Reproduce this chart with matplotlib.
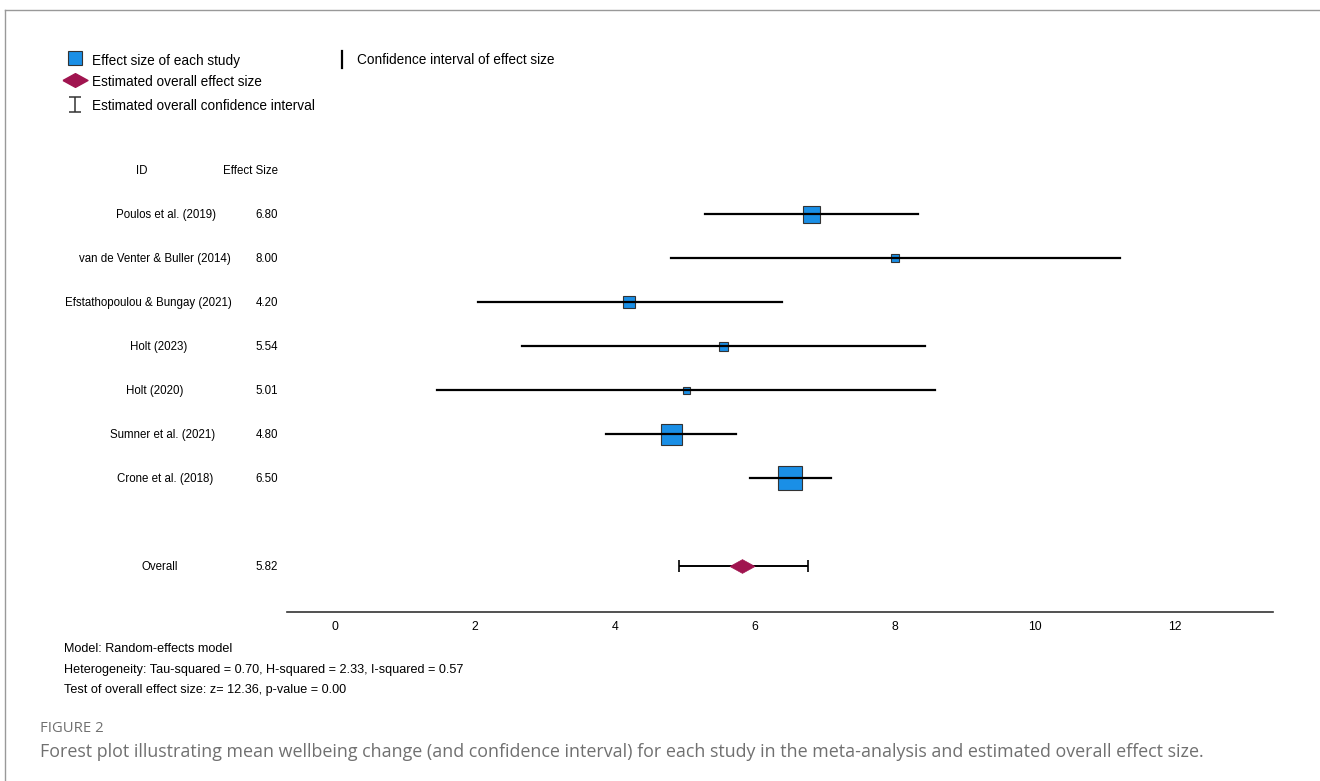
import matplotlib.pyplot as plt
from matplotlib.transforms import blended_transform_factory

plt.rcParams['font.family'] = ['Liberation Sans', 'DejaVu Sans']

studies = ['Poulos et al. (2019)', 'van de Venter & Buller (2014)',
           'Efstathopoulou & Bungay (2021)', 'Holt (2023)', 'Holt (2020)',
           'Sumner et al. (2021)', 'Crone et al. (2018)']
effects = [6.80, 8.00, 4.20, 5.54, 5.01, 4.80, 6.50]
ci_low = [5.29, 4.80, 2.04, 2.67, 1.46, 3.87, 5.93]
ci_high = [8.33, 11.21, 6.39, 8.43, 8.57, 5.73, 7.09]
weights = [17, 8, 12, 9, 7, 21, 24]   # relative box size (study weight)
overall = 5.82
overall_low = 4.91
overall_high = 6.76
xticks = [0, 2, 4, 6, 8, 10, 12]

W, H = 1320, 781
fig = plt.figure(figsize=(W / 100, H / 100), dpi=100)


def px(x0, y0, x1, y1):
    return [x0 / W, 1 - y1 / H, (x1 - x0) / W, (y1 - y0) / H]


blue = '#1a8fe6'
maroon = '#a0144f'
diamond = [(-1, 0), (0, 0.55), (1, 0), (0, -0.55), (-1, 0)]
fs_tab = 8.3
fs_leg = 9.8

# forest plot
ax = fig.add_axes(px(287, 140, 1273, 612))
overall_row = len(studies) + 1
for i in range(len(studies)):
    ax.plot(effects[i], i, marker='s', ms=weights[i] * 0.72, mfc=blue,
            mec='#333333', mew=0.8, zorder=2)
    ax.plot([ci_low[i], ci_high[i]], [i, i], color='black', lw=1.6, zorder=3)

ax.errorbar(overall, overall_row,
            xerr=[[overall - overall_low], [overall_high - overall]],
            fmt='none', ecolor='black', elinewidth=1.4, capsize=4.5,
            capthick=1.2, zorder=2)
ax.plot(overall, overall_row, marker=diamond, ms=18, mfc=maroon, mec=maroon,
        mew=0.5, zorder=3)

ax.set_xlim(-0.686, 13.4)
ax.set_ylim(9.05, -1.68)
ax.set_xticks(xticks)
ax.set_yticks([])
ax.tick_params(axis='x', length=0, labelsize=8.8, pad=6.5)
for s in ['top', 'right', 'left']:
    ax.spines[s].set_visible(False)
ax.spines['bottom'].set_color('#333333')
ax.spines['bottom'].set_linewidth(1.2)

# left table
trans = blended_transform_factory(fig.transFigure, ax.transData)
name_x = [166, 155, 148, 159, 155, 163, 165]
kw = dict(transform=trans, va='center_baseline', fontsize=fs_tab,
          clip_on=False)
ax.text(142 / W, -1, 'ID', ha='center', **kw)
ax.text(278 / W, -1, 'Effect Size', ha='right', **kw)
for i, name in enumerate(studies):
    ax.text(name_x[i] / W, i, name, ha='center', **kw)
    ax.text(278 / W, i, f'{effects[i]:.2f}', ha='right', **kw)
ax.text(160 / W, overall_row, 'Overall', ha='center', **kw)
ax.text(278 / W, overall_row, f'{overall:.2f}', ha='right', **kw)

# overlay for legend, notes, caption, border
ov = fig.add_axes([0, 0, 1, 1], facecolor='none')
ov.set_xlim(0, W)
ov.set_ylim(H, 0)
ov.axis('off')

ov.plot(75, 58, marker='s', ms=9.5, mfc=blue, mec='#333333', mew=0.8)
ov.text(92, 59, 'Effect size of each study', va='center_baseline',
        fontsize=fs_leg)
ov.plot(75, 80, marker=diamond, ms=18, mfc=maroon, mec=maroon)
ov.text(92, 80, 'Estimated overall effect size', va='center_baseline',
        fontsize=fs_leg)
ov.errorbar(75, 104, yerr=7.5, fmt='none', ecolor='#333333', elinewidth=1.1,
            capsize=4, capthick=1.1)
ov.text(92, 104, 'Estimated overall confidence interval',
        va='center_baseline', fontsize=fs_leg)
ov.plot([342, 342], [51, 68], color='black', lw=1.6)
ov.text(357, 59, 'Confidence interval of effect size', va='center_baseline',
        fontsize=fs_leg)

notes = ['Model: Random-effects model',
         'Heterogeneity: Tau-squared = 0.70, H-squared = 2.33, I-squared = 0.57',
         'Test of overall effect size: z= 12.36, p-value = 0.00']
for k, line in enumerate(notes):
    ov.text(64, 648 + 20 * k, line, va='center_baseline', fontsize=9.1)

ov.plot([5, 5], [10, H], color='#999999', lw=1)
ov.plot([5, W], [10, 10], color='#999999', lw=1)

ov.text(40, 727, 'FIGURE 2', va='center_baseline', fontsize=10.7,
        color='#707070', family=['Open Sans', 'DejaVu Sans'])
ov.text(40, 750, 'Forest plot illustrating mean wellbeing change (and '
        'confidence interval) for each study in the meta-analysis and '
        'estimated overall effect size.', va='center_baseline',
        fontsize=12.9, color='#707070', family=['Open Sans', 'DejaVu Sans'])

fig.savefig('out.png', dpi=100)
